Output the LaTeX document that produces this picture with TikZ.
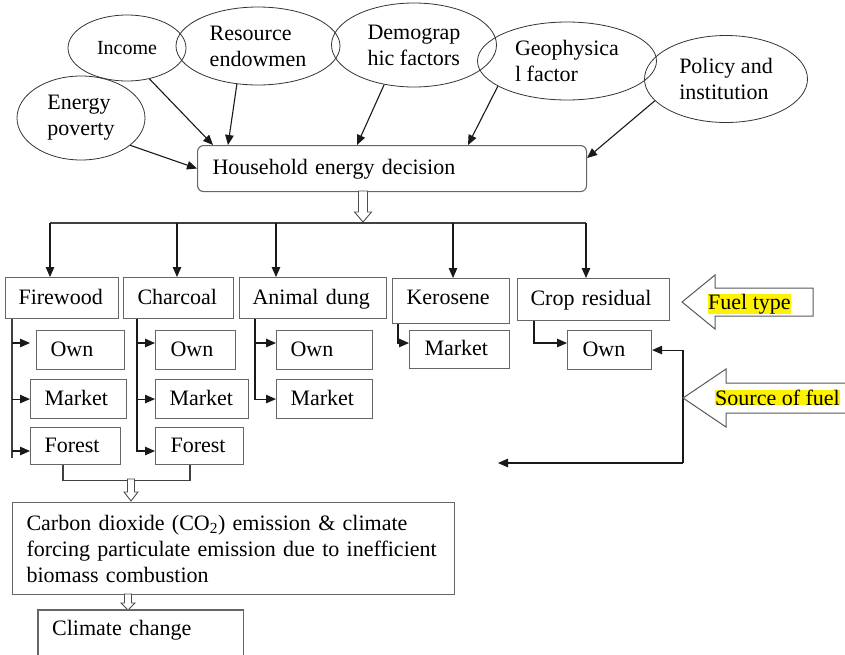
\documentclass[tikz,border=0pt]{standalone}
\usepackage{fontspec}
\setmainfont{Liberation Serif}
\usetikzlibrary{shapes.geometric,arrows.meta,calc}
\newcommand\hollowdown[6]{\draw[hollow] ({#1-#5},#2) -- ({#1+#5},#2) -- ({#1+#5},#3) -- ({#1+#6},#3) -- (#1,#4) -- ({#1-#6},#3) -- ({#1-#5},#3) -- cycle;}
\begin{document}
\begin{tikzpicture}[x=1pt,y=-1pt,
  every node/.style={font=\fontsize{22}{26}\selectfont},
  ell/.style={ellipse,draw=black!80,line width=0.8pt,inner sep=0pt,align=left},
  boxbase/.style={draw=black!60,line width=1.1pt,anchor=north west,inner ysep=0pt,align=left},
  fuelbox/.style={boxbase,text height=16pt,text depth=4pt},
  arr/.style={-{Triangle[length=10pt,width=8.5pt]},line width=1.1pt,draw=black!90},
  ln/.style={line width=1.1pt,draw=black!75},
  hollow/.style={draw=black!70,line width=0.9pt,fill=white},
  bigarrow/.style={draw=black!65,line width=1pt,fill=white},
  hl/.style={fill=yellow,inner sep=0pt,anchor=base west}
]
\useasboundingbox (0,0) rectangle (845,654);
\clip (0,0) rectangle (845,654);

% ellipses
\node[ell,minimum width=118pt,minimum height=66pt,font=\fontsize{20}{24}\selectfont] (income) at (127,48) {Income};
\node[ell,minimum width=164pt,minimum height=78pt] (resource) at (258,46) {Resource\\endowmen};
\node[ell,minimum width=165pt,minimum height=84pt] (demog) at (414,45) {Demograp\\hic factors};
\node[ell,minimum width=179pt,minimum height=78pt] (geo) at (567,61) {Geophysica\\l factor};
\node[ell,minimum width=163pt,minimum height=87pt] (policy) at (726,79) {Policy and\\institution};
\node[ell,minimum width=128pt,minimum height=84pt] (poverty) at (81,118) {Energy\\poverty};

% household decision
\node[fuelbox,rounded corners=6pt,minimum height=46pt,text width=359pt,inner xsep=15pt] (hh) at (197,145) {Household energy decision};

\draw[arr] (poverty.-29) -- (hh.west);
\draw[arr] (income.-54) -- ($(hh.north west)+(16,0)$);
\draw[arr] (resource.241) -- ($(hh.north west)+(31,0)$);
\draw[arr] (demog.233) -- ($(hh.north west)+(160,0)$);
\draw[arr] (geo.200) -- ($(hh.north west)+(271,0)$);
\draw[arr] (policy.197) -- ($(hh.north east)+(0,13)$);

% fuel type boxes
\node[fuelbox,minimum height=41pt,text width=87pt,inner xsep=13pt] (fw) at (5,277) {Firewood};
\node[fuelbox,minimum height=41pt,text width=82pt,inner xsep=14pt] (ch) at (123,277) {Charcoal};
\node[fuelbox,minimum height=41pt,text width=121pt,inner xsep=13pt] (ad) at (239,277) {Animal dung};
\node[fuelbox,minimum height=45pt,text width=89pt,inner xsep=14pt,text depth=10pt] (ke) at (392,278) {Kerosene};
\node[fuelbox,minimum height=42pt,text width=126pt,inner xsep=13pt] (cr) at (517,278) {Crop residual};

% bus
\hollowdown{363}{191}{212}{222}{4.5}{8.5}
\coordinate (b1) at (50,223);
\coordinate (b2) at (177,223);
\coordinate (b3) at (276,223);
\coordinate (b4) at (453,223);
\coordinate (b5) at (586,223);
\draw[ln] (b1) -- (b5);
\draw[arr] (b1) -- (b1 |- fw.north);
\draw[arr] (b2) -- (b2 |- ch.north);
\draw[arr] (b3) -- (b3 |- ad.north);
\draw[arr] (b4) -- (b4 |- ke.north);
\draw[arr] (b5) -- (b5 |- cr.north);

% source boxes
\node[fuelbox,minimum height=39pt,text width=60pt,inner xsep=14pt] (fwown) at (36,330) {Own};
\node[fuelbox,minimum height=39pt,text width=68pt,inner xsep=14pt] (fwmkt) at (30,379) {Market};
\node[fuelbox,minimum height=37pt,text width=62pt,inner xsep=14pt] (fwfor) at (30,427) {Forest};
\node[fuelbox,minimum height=39pt,text width=50pt,inner xsep=15pt] (chown) at (155,330) {Own};
\node[fuelbox,minimum height=39pt,text width=65pt,inner xsep=14pt] (chmkt) at (155,379) {Market};
\node[fuelbox,minimum height=37pt,text width=58pt,inner xsep=15pt] (chfor) at (155,427) {Forest};
\node[fuelbox,minimum height=39pt,text width=68pt,inner xsep=14pt] (adown) at (276,330) {Own};
\node[fuelbox,minimum height=39pt,text width=68pt,inner xsep=14pt] (admkt) at (276,379) {Market};
\node[fuelbox,minimum height=38pt,text width=70pt,inner xsep=15pt] (kemkt) at (409,330) {Market};
\node[fuelbox,minimum height=39pt,text width=54pt,inner xsep=15pt] (crown) at (567,330) {Own};

% firewood branches
\coordinate (fwl) at ($(fw.south west)+(7,0)$);
\draw[ln] (fwl) -- ++(0,139);
\draw[arr] (fwl |- 0,343) -- (fwmkt.west |- 0,343);
\draw[arr] (fwl |- fwmkt.west) -- (fwmkt.west);
\draw[arr] (fwl |- 0,451) -- (fwfor.west |- 0,451);
% charcoal branches
\coordinate (chl) at ($(ch.south west)+(14,0)$);
\draw[arr] (chl) |- (chfor.west |- 0,451);
\draw[arr] (chl |- 0,343) -- (chown.west |- 0,343);
\draw[arr] (chl |- chmkt.west) -- (chmkt.west);
% animal dung branches
\coordinate (adl) at ($(ad.south west)+(16,0)$);
\draw[arr] (adl) |- (admkt.west);
\draw[arr] (adl |- 0,343) -- (adown.west |- 0,343);
% kerosene
\coordinate (kel) at ($(ke.south west)+(6,0)$);
\draw[arr] (kel) |- (kemkt.west |- 0,343);
% crop residual
\coordinate (crl) at ($(cr.south west)+(17,0)$);
\draw[arr] (crl) |- (crown.west |- 0,343);

% feedback
\coordinate (fb) at (683,463);
\coordinate (fbend) at (498,463);
\draw[arr] (fb) |- (crown.east);
\draw[arr] (fb) -- (fbend);

% big labelled arrows
\draw[bigarrow] (682,302) -- (715,275) -- (715,288) -- (813,288) -- (813,316) -- (715,316) -- (715,329) -- cycle;
\node[hl] (fueltype) at (708,309) {Fuel type};
\draw[bigarrow] (683,398) -- (726,369) -- (726,383) -- (860,383) -- (860,413) -- (726,413) -- (726,427) -- cycle;
\node[hl] (source) at (715,405) {Source of fuel};

% forest merge
\draw[ln] ($(fwfor.south west)+(33,0)$) -- ++(0,15) -| ($(chfor.south west)+(35,0)$);
\hollowdown{131}{479}{492}{501}{3.5}{7}

% emission box
\node[boxbase,minimum height=92pt,text width=414pt,inner xsep=14pt] (co2) at (12,502) {Carbon dioxide (CO\textsubscript{2}) emission \& climate\\forcing particulate emission due to inefficient\\biomass combustion};
\hollowdown{128}{594}{603}{610}{3.5}{7}

% climate change (bottom edge outside the picture)
\node[anchor=north west,minimum height=40pt,text width=177pt,inner xsep=14pt,inner ysep=0pt,align=left] (climate) at (38,610) {Climate change};
\draw[draw=black!60,line width=1.1pt] ($(climate.north west)+(0,50)$) -- (climate.north west) -- (climate.north east) -- ++(0,50);
\end{tikzpicture}
\end{document}
